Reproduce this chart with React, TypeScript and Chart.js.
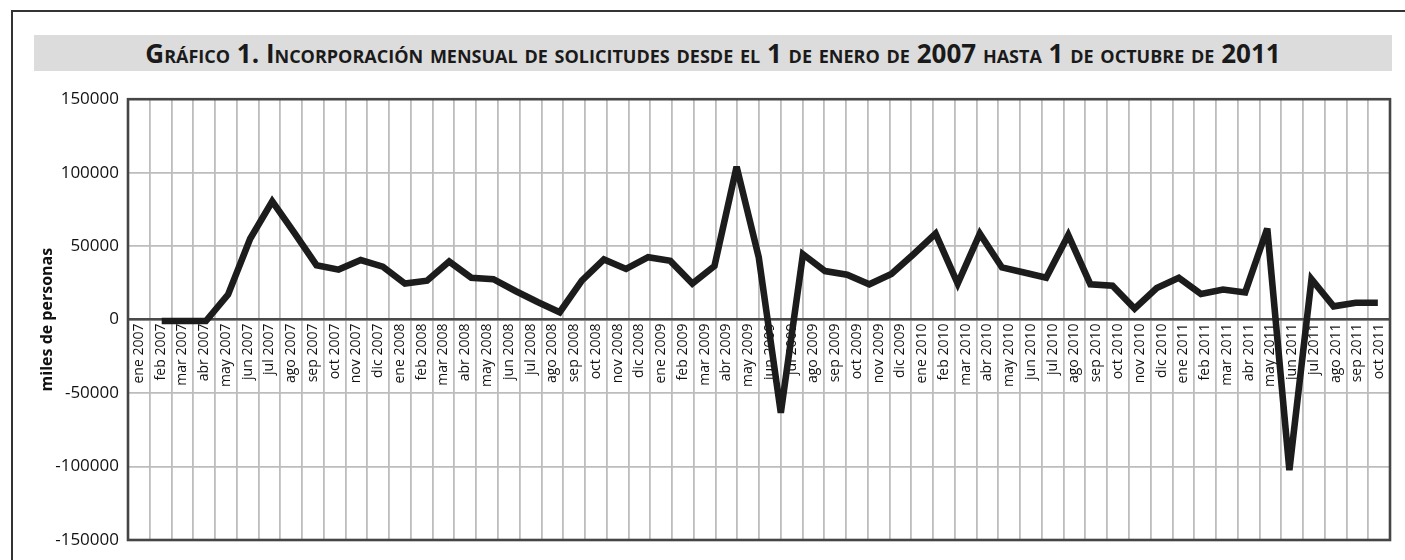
import React, { useEffect, useRef } from "react";
import { Chart, registerables } from "chart.js";

Chart.register(...registerables);

const titleText =
  "Gráfico 1. Incorporación mensual de solicitudes desde el 1 de enero de 2007 hasta 1 de octubre de 2011";
const yAxisTitle = "miles de personas";

const monthLabels = [
  "ene 2007", "feb 2007", "mar 2007", "abr 2007", "may 2007", "jun 2007",
  "jul 2007", "ago 2007", "sep 2007", "oct 2007", "nov 2007", "dic 2007",
  "ene 2008", "feb 2008", "mar 2008", "abr 2008", "may 2008", "jun 2008",
  "jul 2008", "ago 2008", "sep 2008", "oct 2008", "nov 2008", "dic 2008",
  "ene 2009", "feb 2009", "mar 2009", "abr 2009", "may 2009", "jun 2009",
  "jul 2009", "ago 2009", "sep 2009", "oct 2009", "nov 2009", "dic 2009",
  "ene 2010", "feb 2010", "mar 2010", "abr 2010", "may 2010", "jun 2010",
  "jul 2010", "ago 2010", "sep 2010", "oct 2010", "nov 2010", "dic 2010",
  "ene 2011", "feb 2011", "mar 2011", "abr 2011", "may 2011", "jun 2011",
  "jul 2011", "ago 2011", "sep 2011", "oct 2011",
];

// monthly incorporations (series as drawn; 56 points)
const seriesValues = [
  -1000, -1000, -1000, 17000, 55000, 80500, 59000, 37000, 34000, 40500,
  36000, 24500, 26500, 39500, 28500, 27500, 19500, 12000, 5000, 26500,
  41000, 34500, 42500, 40000, 24500, 36500, 104000, 42500, -63500, 44500,
  33000, 30500, 24000, 31000, 44500, 58500, 24500, 58500, 35500, 32000,
  28500, 57500, 24000, 23000, 7500, 21500, 28500, 17500, 20500, 18500,
  62000, -102500, 27500, 9000, 11500, 11500,
];

const yTicks = [-150000, -100000, -50000, 0, 50000, 100000, 150000];

const FONT = "'Open Sans', 'Noto Sans', sans-serif";

const framePlugin = {
  id: "frame",
  beforeDatasetsDraw(chart: any) {
    const { ctx, chartArea } = chart;
    const { left, top, right, bottom } = chartArea;
    ctx.save();
    ctx.strokeStyle = "#454545";
    ctx.lineWidth = 2.6;
    ctx.strokeRect(left, top, right - left, bottom - top);
    ctx.restore();
    ctx.miterLimit = 4;
  },
  afterDatasetsDraw(chart: any) {
    chart.ctx.miterLimit = 10;
  },
};

export default function App() {
  const canvasRef = useRef<HTMLCanvasElement | null>(null);

  useEffect(() => {
    if (!canvasRef.current) return;
    const chart = new Chart(canvasRef.current, {
      type: "line",
      data: {
        labels: monthLabels,
        datasets: [
          {
            label: "solicitudes",
            data: seriesValues.map((v, i) => ({ x: i, y: v })),
            xAxisID: "xl",
            yAxisID: "y",
            borderColor: "#1c1c1c",
            borderWidth: 6.6,
            borderJoinStyle: "miter",
            borderCapStyle: "butt",
            pointRadius: 0,
            pointHoverRadius: 0,
            tension: 0,
            fill: false,
          },
        ],
      },
      options: {
        responsive: false,
        animation: false,
        events: [],
        layout: { padding: { left: 30, right: 15, top: 16, bottom: 20 } },
        plugins: {
          legend: { display: false },
          title: { display: false },
          tooltip: { enabled: false },
        },
        scales: {
          x: {
            type: "category",
            position: { y: 0 } as any,
            offset: true,
            afterFit: (s: any) => {
              s.height = 0;
            },
            grid: {
              offset: true,
              color: "#bdbdbd",
              lineWidth: 1.8,
              drawTicks: false,
            },
            border: { display: true, color: "#4a4a4a", width: 2.4 },
            ticks: {
              autoSkip: false,
              minRotation: 90,
              maxRotation: 90,
              padding: 4,
              color: "#111",
              font: { family: FONT, size: 14 },
            },
          },
          xl: {
            type: "linear",
            display: false,
            min: -1.524,
            max: 55.55,
          },
          y: {
            type: "linear",
            position: "left",
            min: yTicks[0],
            max: yTicks[yTicks.length - 1],
            afterFit: (s: any) => {
              s.width = 98;
            },
            afterBuildTicks: (s: any) => {
              s.ticks = yTicks.map((v) => ({ value: v }));
            },
            grid: { color: "#bdbdbd", lineWidth: 1.8, drawTicks: false },
            border: { display: false },
            ticks: {
              padding: 9,
              color: "#111",
              font: { family: FONT, size: 17 },
              callback: (v: any) => String(v),
            },
            title: {
              display: true,
              text: yAxisTitle,
              color: "#111",
              font: { family: FONT, size: 16, weight: "bold" },
              padding: { top: 7.4, bottom: 0 },
            },
          },
        },
      },
      plugins: [framePlugin],
    } as any);
    return () => chart.destroy();
  }, []);

  return (
    <div style={{ position: "absolute", left: 0, top: 0, width: 1405, height: 560, background: "#fff", overflow: "hidden" }}>
      <div style={{ position: "absolute", left: 11, top: 10, width: 1400, height: 1.5, background: "#333" }} />
      <div style={{ position: "absolute", left: 11, top: 10, width: 1.5, height: 560, background: "#333" }} />
      <div
        style={{
          position: "absolute",
          left: 34,
          top: 35,
          width: 1358,
          height: 36,
          background: "#dcdcdc",
          fontFamily: FONT,
          fontWeight: 700,
          fontVariant: "small-caps",
          fontSize: 26,
          lineHeight: "36px",
          textAlign: "center",
          color: "#1a1a1a",
          whiteSpace: "nowrap",
        }}
      >
        {titleText}
      </div>
      <canvas
        ref={canvasRef}
        width={1405}
        height={480}
        style={{ position: "absolute", left: 0, top: 80, width: 1405, height: 480, display: "block" }}
      />
    </div>
  );
}
